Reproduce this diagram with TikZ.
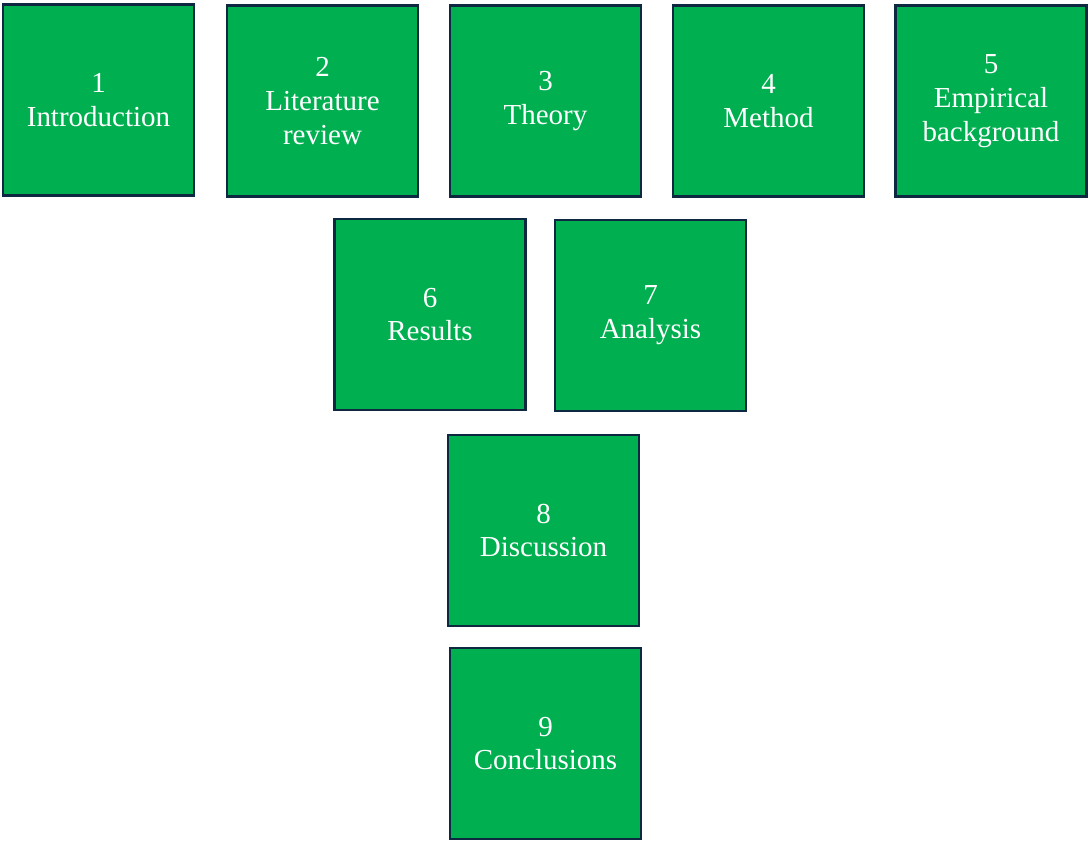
\documentclass[tikz,border=0pt]{standalone}
\usepackage{fontspec}
\setmainfont{Liberation Serif}
\usepackage{tikz}

\definecolor{boxgreen}{HTML}{00B050}
\definecolor{boxline}{HTML}{0E2841}

\tikzset{
    chapter/.style={draw=boxline, line width=1.2pt, fill=boxgreen,
        text=white, align=center,
        minimum width=3.82cm, minimum height=3.82cm,
        font=\fontsize{16.5}{19.3}\selectfont},
}

\begin{document}
\begin{tikzpicture}[x=0.02cm, y=-0.02cm]
        \useasboundingbox (0,0) rectangle (1088,841);

        % top row
        \node [chapter] (intro) at (98.5,100){1\\Introduction};
        \node [chapter] (litrev) at (322.5,101){2\\Literature\\review};
        \node [chapter] (theory) at (545.5,101){3\\Theory};
        \node [chapter] (method) at (768.5,101){4\\Method};
        \node [chapter] (empirical) at (991,101){5\\Empirical\\background};

        % middle row
        \node [chapter] (results) at (430,314.5){6\\Results};
        \node [chapter] (analysis) at (650.5,315.5){7\\Analysis};

        % bottom
        \node [chapter] (discussion) at (543.5,530.5){8\\Discussion};
        \node [chapter] (conclusions) at (545.5,743.5){9\\Conclusions};
\end{tikzpicture}
\end{document}
